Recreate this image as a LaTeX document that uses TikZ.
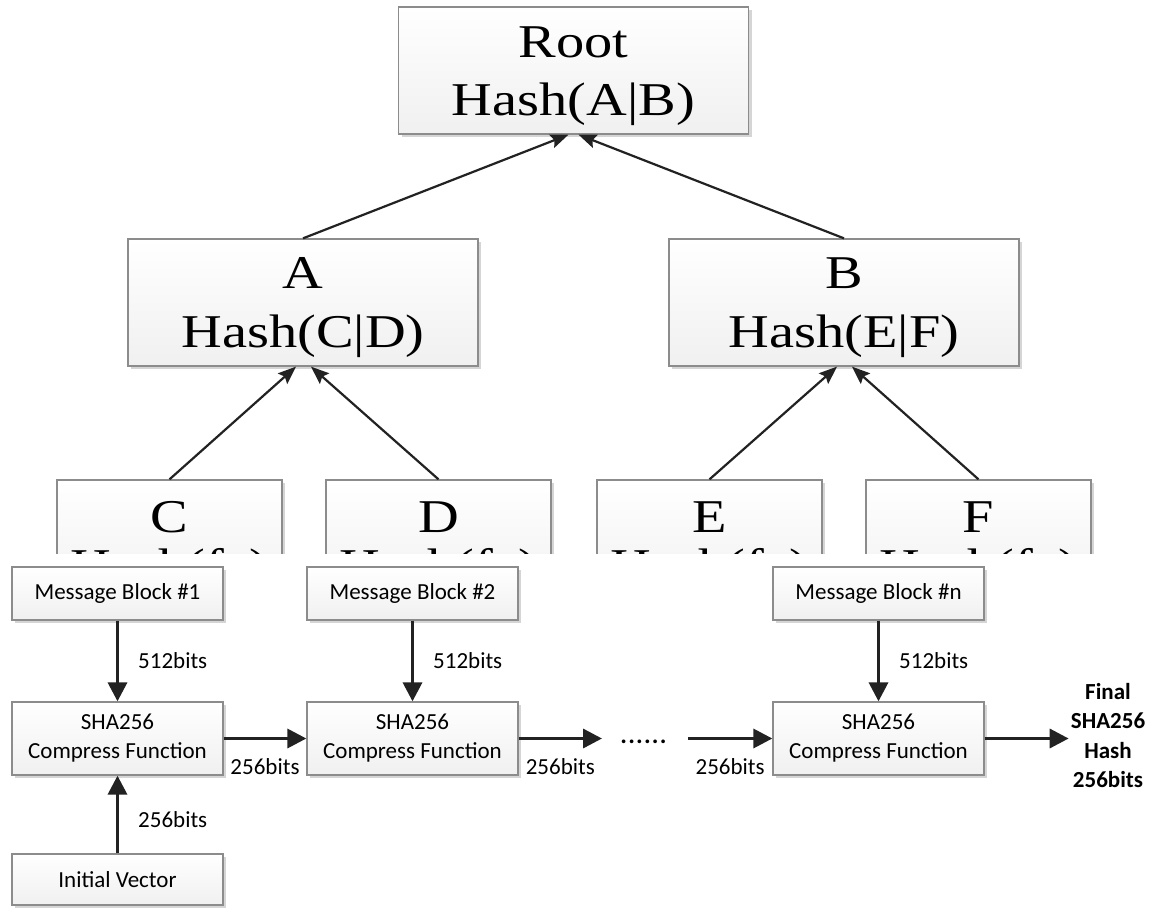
\documentclass[tikz,border=0pt]{standalone}
\usepackage{fontspec}
\newfontfamily\treefont[FakeStretch=1.2]{Liberation Serif}
\newfontfamily\flowfont{Carlito}
\usetikzlibrary{arrows.meta,shadows}

\definecolor{boxedge}{HTML}{8C8C8C}
\definecolor{boxlow}{HTML}{F0F0F0}
\definecolor{arrowink}{HTML}{222222}
\definecolor{shadowgray}{HTML}{C4C4C4}

\begin{document}
\begin{tikzpicture}[x=1pt,y=-1pt,
  panel/.style={draw=boxedge, line width=1.3pt, top color=white, bottom color=boxlow,
    drop shadow={shadow xshift=3pt, shadow yshift=-3pt, fill=shadowgray, opacity=0.7},
    inner sep=0pt},
  treebox/.style={panel, minimum width=350pt, minimum height=127pt},
  leafbox/.style={panel, minimum width=225pt, minimum height=127pt},
  treetext/.style={inner sep=0pt, anchor=base, font=\treefont\fontsize{47}{58}\selectfont},
  flowbox/.style={panel, minimum width=211pt, align=center,
    font=\flowfont\fontsize{23}{29}\selectfont},
  msgbox/.style={flowbox, minimum height=53pt},
  fnbox/.style={flowbox, minimum height=73pt},
  ivbox/.style={flowbox, minimum height=51pt},
  bitslabel/.style={inner sep=0pt, font=\flowfont\fontsize{23}{28}\selectfont},
  treearrow/.style={draw=arrowink, line width=2.2pt,
    -{Stealth[length=18pt, width=14pt, inset=3pt]}},
  flowarrow/.style={draw=arrowink, line width=3.4pt,
    -{Triangle[length=19pt, width=19pt]}}
]
\path[fill=white, use as bounding box] (0,0) rectangle (1153,907);

% ---------------- Merkle tree ----------------
\node[treebox] (root) at (573.5,70.5) {};
\node[treetext] (rootname) at (573.5,57) {Root};
\node[treetext] (roothash) at (573.5,115) {Hash(A|B)};

\node[treebox] (A) at (303,302.5) {};
\node[treetext] (Aname) at (303,288) {A};
\node[treetext] (Ahash) at (303,347) {Hash(C|D)};

\node[treebox] (B) at (844,302.5) {};
\node[treetext] (Bname) at (844,288) {B};
\node[treetext] (Bhash) at (844,347) {Hash(E|F)};

% leaves, cut off by the block diagram below
\begin{scope}
  \clip (0,470) rectangle (1153,553);
  \node[leafbox] (C) at (169.5,543.5) {};
  \node[treetext] (Cname) at (169.5,532) {C};
  \node[treetext] (Chash) at (169.5,581) {Hash(fa)};
  \node[leafbox] (D) at (438.5,543.5) {};
  \node[treetext] (Dname) at (438.5,532) {D};
  \node[treetext] (Dhash) at (438.5,581) {Hash(fa)};
  \node[leafbox] (E) at (709.5,543.5) {};
  \node[treetext] (Ename) at (709.5,532) {E};
  \node[treetext] (Ehash) at (709.5,581) {Hash(fa)};
  \node[leafbox] (F) at (978.5,543.5) {};
  \node[treetext] (Fname) at (978.5,532) {F};
  \node[treetext] (Fhash) at (978.5,581) {Hash(fa)};
\end{scope}

\draw[treearrow] (A.north) -- ([xshift=-5pt]root.south);
\draw[treearrow] (B.north) -- ([xshift=5pt]root.south);
\draw[treearrow] (C.north) -- ([xshift=-7pt]A.south);
\draw[treearrow] (D.north) -- ([xshift=8pt]A.south);
\draw[treearrow] (E.north) -- ([xshift=-7pt]B.south);
\draw[treearrow] (F.north) -- ([xshift=8pt]B.south);

% ---------------- SHA256 chain ----------------
\node[msgbox] (mb1) at (117.5,593.5) {Message Block \#1};
\node[msgbox] (mb2) at (412.5,593.5) {Message Block \#2};
\node[msgbox] (mbn) at (878.5,593.5) {Message Block \#n};

\node[fnbox] (c1) at (117.5,738.5) {SHA256\\Compress Function};
\node[fnbox] (c2) at (412.5,738.5) {SHA256\\Compress Function};
\node[fnbox] (cn) at (878.5,738.5) {SHA256\\Compress Function};

\node[ivbox] (iv) at (117.5,879.5) {Initial Vector};

\draw[flowarrow] (mb1) -- (c1)
  node[bitslabel, midway, anchor=west, xshift=19pt] (l1) {512bits};
\draw[flowarrow] (mb2) -- (c2)
  node[bitslabel, midway, anchor=west, xshift=19pt] (l2) {512bits};
\draw[flowarrow] (mbn) -- (cn)
  node[bitslabel, midway, anchor=west, xshift=19pt] (l3) {512bits};
\draw[flowarrow] (iv) -- (c1)
  node[bitslabel, midway, anchor=west, xshift=19pt, yshift=-5pt] (l4) {256bits};

\coordinate (out2) at (602,738.5);
\coordinate (in3) at (688,738.5);

\draw[flowarrow] (c1) -- (c2)
  node[bitslabel, midway, below=18pt] (l5) {256bits};
\draw[flowarrow] (c2) -- (out2)
  node[bitslabel, midway, below=18pt] (l6) {256bits};
\node[bitslabel, anchor=base, font=\flowfont\bfseries\fontsize{25}{28}\selectfont] (dots) at (643.5,743)
  {.\hspace{1.2pt}.\hspace{1.2pt}.\hspace{1.2pt}.\hspace{1.2pt}.\hspace{1.2pt}.};
\draw[flowarrow] (in3) -- (cn)
  node[bitslabel, midway, below=18pt] (l7) {256bits};

\node[inner sep=2pt, align=center, font=\flowfont\bfseries\fontsize{23}{29.5}\selectfont]
  (final) at (1108,735.5) {Final\\SHA256\\Hash\\256bits};
\draw[flowarrow] (cn.east) -- (cn.east -| final.west);
\end{tikzpicture}
\end{document}
